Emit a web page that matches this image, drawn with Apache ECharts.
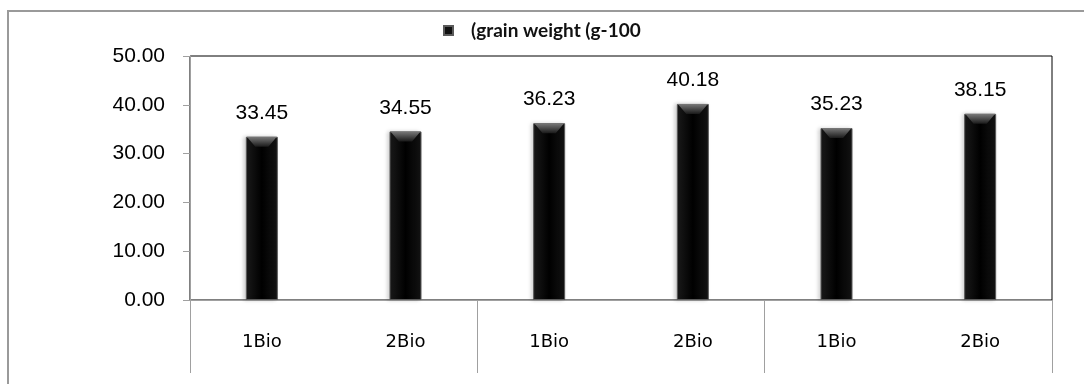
<!DOCTYPE html>
<html>
<head>
<meta charset="utf-8">
<script src="https://cdn.jsdelivr.net/npm/echarts@6/dist/echarts.min.js"></script>
<style>
html,body{margin:0;padding:0;background:#fff;}
#wrap{position:relative;width:1084px;height:384px;overflow:hidden;}
#frame{position:absolute;left:7px;top:10px;width:1100px;height:400px;border-top:2px solid #9a9a9a;border-left:2px solid #9a9a9a;box-sizing:border-box;}
#chart{position:absolute;left:0;top:0;width:1084px;height:384px;}
</style>
</head>
<body>
<div id="wrap"><div id="frame"></div><div id="chart"></div></div>
<script>
const categories = ["1Bio", "2Bio", "1Bio", "2Bio", "1Bio", "2Bio"];
const seriesName = "(grain weight (g-100";
const values = [33.45, 34.55, 36.23, 40.18, 35.23, 38.15];
const yTicks = { min: 0, max: 50, interval: 10 };

const chart = echarts.init(document.getElementById('chart'));
chart.setOption({
  animation: false,
  backgroundColor: 'transparent',
  grid: { left: 190, right: 32, top: 56, bottom: 84, show: true, borderColor: '#000', borderWidth: 1, backgroundColor: 'transparent' },
  legend: {
    left: 443, top: 21, padding: 0,
    itemWidth: 9, itemHeight: 9,
    data: [{ name: seriesName, icon: 'rect', itemStyle: { color: '#111' } }],
    textStyle: { fontFamily: 'Lato', fontWeight: 'bold', fontSize: 19, color: '#111', padding: [0, 0, 0, 13] },
    selectedMode: false
  },
  xAxis: {
    type: 'category',
    data: categories,
    axisLine: { lineStyle: { color: '#a0a0a0', width: 1 } },
    axisTick: { show: true, length: 73, interval: function (i) { return i % 2 === 0; }, lineStyle: { color: '#a0a0a0' } },
    axisLabel: { margin: 33, fontFamily: 'DejaVu Sans', fontSize: 18, color: '#000', interval: 0 },
    splitLine: { show: false }
  },
  yAxis: {
    type: 'value',
    min: yTicks.min, max: yTicks.max, interval: yTicks.interval,
    axisLine: { show: true, lineStyle: { color: '#a0a0a0' } },
    axisTick: { show: true, length: 7, lineStyle: { color: '#a0a0a0' } },
    axisLabel: { margin: 25, fontFamily: 'Liberation Sans', fontSize: 21, color: '#000', formatter: function (v) { return v.toFixed(2); } },
    splitLine: { show: false }
  },
  series: [
    {
      name: seriesName,
      type: 'bar',
      data: values,
      barWidth: 32,
      barGap: '-100%',
      itemStyle: {
        color: new echarts.graphic.LinearGradient(0, 0, 1, 0, [
          { offset: 0, color: '#1a1a1a' },
          { offset: 0.5, color: '#000' },
          { offset: 1, color: '#141414' }
        ]),
        borderColor: '#5a5a5a', borderWidth: 1,
        shadowColor: 'rgba(0,0,0,0.18)', shadowBlur: 4, shadowOffsetX: -2
      },
      label: {
        show: true, position: 'top', distance: 13,
        fontFamily: 'Liberation Sans', fontSize: 21, color: '#000',
        formatter: function (p) { return p.value.toFixed(2); }
      }
    },
    {
      name: 'bevel',
      type: 'pictorialBar',
      data: values,
      barWidth: 32,
      barGap: '-100%',
      symbol: 'path://M0,0 L32,0 L23,10 L9,10 Z',
      symbolSize: [30, 10],
      symbolPosition: 'end',
      symbolOffset: [0, 0],
      z: 3,
      silent: true,
      itemStyle: {
        color: new echarts.graphic.LinearGradient(0, 0, 0, 1, [
          { offset: 0, color: '#7a7a7a' },
          { offset: 1, color: '#1a1a1a' }
        ])
      },
      label: { show: false }
    }
  ]
});
</script>
</body>
</html>
